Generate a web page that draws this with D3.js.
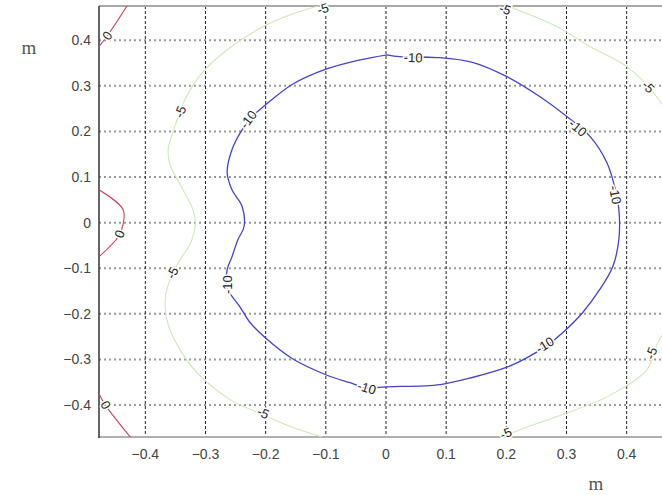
<!DOCTYPE html>
<html>
<head>
<meta charset="utf-8">
<script src="https://cdn.jsdelivr.net/npm/d3@7"></script>
<style>
  body { margin: 0; background: #fff; }
  svg { display: block; }
</style>
</head>
<body>
<div id="chart"></div>
<script>
// ticks
const xTicks = [-0.4, -0.3, -0.2, -0.1, 0, 0.1, 0.2, 0.3, 0.4];
const yTicks = [0.4, 0.3, 0.2, 0.1, 0, -0.1, -0.2, -0.3, -0.4];

// contour level -10 (closed)
const level10 = [
  [0.002, 0.368], [0.023, 0.364], [0.085, 0.362], [0.145, 0.351], [0.201, 0.320],
  [0.256, 0.276], [0.301, 0.232], [0.339, 0.189], [0.367, 0.132], [0.380, 0.079],
  [0.387, 0.029], [0.387, -0.037], [0.377, -0.096], [0.355, -0.147], [0.327, -0.197],
  [0.294, -0.241], [0.269, -0.268], [0.236, -0.295], [0.201, -0.317], [0.145, -0.339],
  [0.090, -0.355], [0.002, -0.360], [-0.032, -0.362], [-0.060, -0.351], [-0.101, -0.333],
  [-0.156, -0.298], [-0.201, -0.252], [-0.226, -0.219], [-0.243, -0.184], [-0.264, -0.143],
  [-0.264, -0.103], [-0.256, -0.075], [-0.246, -0.037], [-0.236, -0.009], [-0.239, 0.035],
  [-0.256, 0.072], [-0.264, 0.110], [-0.256, 0.160], [-0.239, 0.204], [-0.223, 0.232],
  [-0.204, 0.254], [-0.156, 0.303], [-0.101, 0.336], [-0.043, 0.357], [0.002, 0.368]
];
const labels10 = [[0.045, 0.362], [-0.229, 0.226], [0.319, 0.208], [0.381, 0.061],
                  [0.264, -0.268], [-0.032, -0.362], [-0.264, -0.136]];

// contour level -5 (two open pieces)
const level5Left = [
  [-0.110, 0.476], [-0.159, 0.456], [-0.204, 0.430], [-0.259, 0.384], [-0.304, 0.331],
  [-0.334, 0.270], [-0.350, 0.215], [-0.362, 0.160], [-0.359, 0.127], [-0.342, 0.083],
  [-0.321, 0.029], [-0.317, -0.004], [-0.326, -0.048], [-0.342, -0.081], [-0.359, -0.125],
  [-0.367, -0.169], [-0.362, -0.224], [-0.342, -0.279], [-0.314, -0.329], [-0.259, -0.388],
  [-0.204, -0.421], [-0.159, -0.447], [-0.106, -0.470]
];
const level5Right = [
  [0.198, 0.476], [0.218, 0.467], [0.284, 0.430], [0.339, 0.386], [0.400, 0.342],
  [0.447, 0.281], [0.488, 0.182], [0.500, 0.0], [0.488, -0.169], [0.450, -0.268],
  [0.434, -0.322], [0.367, -0.382], [0.284, -0.425], [0.223, -0.454], [0.194, -0.470]
];
const labels5 = [[-0.105, 0.469], [-0.342, 0.243], [-0.355, -0.110], [-0.204, -0.417],
                 [0.198, 0.468], [0.436, 0.298], [0.441, -0.286], [0.199, -0.462]];

// contour level 0 (three pieces at the left edge)
const level0Top = [[-0.477, 0.386], [-0.462, 0.412], [-0.430, 0.476]];
const level0Mid = [[-0.477, 0.072], [-0.437, 0.029], [-0.437, -0.004], [-0.445, -0.031], [-0.477, -0.075]];
const level0Bot = [[-0.477, -0.375], [-0.467, -0.399], [-0.425, -0.470]];
const labels0 = [[-0.463, 0.410], [-0.443, -0.025], [-0.466, -0.400]];

const W = 662, H = 495;
const m = {left: 99, top: 6, right: 673, bottom: 437};

const x = d3.scaleLinear().domain([-0.477, 0.477]).range([m.left, m.right]);
const y = d3.scaleLinear().domain([-0.47, 0.475]).range([m.bottom, m.top]);

const svg = d3.select("#chart").append("svg")
    .attr("width", W)
    .attr("height", H)
    .style("font-family", "Liberation Sans, Arial, sans-serif");

svg.append("defs").append("clipPath").attr("id", "plot")
  .append("rect")
    .attr("x", m.left).attr("y", m.top)
    .attr("width", m.right - m.left).attr("height", m.bottom - m.top);

// grid
svg.append("g")
  .selectAll("line")
  .data(yTicks)
  .enter().append("line")
    .attr("x1", m.left).attr("x2", m.right)
    .attr("y1", d => y(d)).attr("y2", d => y(d))
    .style("stroke", "#9a9a9a")
    .style("stroke-width", 2)
    .style("stroke-dasharray", "2,3");

svg.append("g")
  .selectAll("line")
  .data(xTicks)
  .enter().append("line")
    .attr("x1", d => x(d)).attr("x2", d => x(d))
    .attr("y1", m.top).attr("y2", m.bottom)
    .style("stroke", "#222")
    .style("stroke-width", 1)
    .style("stroke-dasharray", "3,2");

// borders
svg.append("line")
    .attr("x1", m.left).attr("x2", m.right).attr("y1", m.top).attr("y2", m.top)
    .style("stroke", "#a8a8a8").style("stroke-width", 2);
svg.append("line")
    .attr("x1", m.left).attr("x2", m.right).attr("y1", m.bottom).attr("y2", m.bottom)
    .style("stroke", "#b0b0b0").style("stroke-width", 2);
svg.append("line")
    .attr("x1", m.left).attr("x2", m.left).attr("y1", m.top).attr("y2", m.bottom + 1)
    .style("stroke", "#333").style("stroke-width", 1.5);

// contours
const line = d3.line().x(d => x(d[0])).y(d => y(d[1])).curve(d3.curveCatmullRom);
const contours = [
  {pts: level10, color: "#4444c4", w: 1.3},
  {pts: level5Left, color: "#cfe8b8", w: 1.1},
  {pts: level5Right, color: "#cfe8b8", w: 1.1},
  {pts: level0Top, color: "#c8465a", w: 1.1},
  {pts: level0Mid, color: "#c8465a", w: 1.1},
  {pts: level0Bot, color: "#c8465a", w: 1.1}
];
svg.append("g").attr("clip-path", "url(#plot)")
  .selectAll("path")
  .data(contours)
  .enter().append("path")
    .attr("d", d => line(d.pts))
    .style("fill", "none")
    .style("stroke", d => d.color)
    .style("stroke-width", d => d.w);

// label angle from nearest segment of its contour
function angleAt (p, sets) {
  let best = null, bd = Infinity;
  sets.forEach(pts => {
    for (let i = 0; i < pts.length - 1; i++) {
      const mx = (pts[i][0] + pts[i + 1][0]) / 2, my = (pts[i][1] + pts[i + 1][1]) / 2;
      const dd = (x(mx) - x(p[0])) ** 2 + (y(my) - y(p[1])) ** 2;
      if (dd < bd) { bd = dd; best = [pts[i], pts[i + 1]]; }
    }
  });
  let a = Math.atan2(y(best[1][1]) - y(best[0][1]), x(best[1][0]) - x(best[0][0])) * 180 / Math.PI;
  if (a > 90) a -= 180;
  if (a < -90) a += 180;
  return a;
}

const labelSets = [
  {pts: labels10, text: "-10", lines: [level10]},
  {pts: labels5, text: "-5", lines: [level5Left, level5Right]},
  {pts: labels0, text: "0", lines: [level0Top, level0Mid, level0Bot]}
];
labelSets.forEach(set => {
  svg.append("g")
    .selectAll("text")
    .data(set.pts)
    .enter().append("text")
      .attr("transform", d => `translate(${x(d[0])},${y(d[1])}) rotate(${angleAt(d, set.lines)})`)
      .attr("text-anchor", "middle")
      .attr("dy", "0.35em")
      .style("font-size", "13px")
      .style("fill", "#222")
      .style("stroke", "#fff")
      .style("stroke-width", 3)
      .style("paint-order", "stroke")
      .text(set.text);
});

// tick labels
svg.append("g")
  .selectAll("text")
  .data(yTicks)
  .enter().append("text")
    .attr("x", 91)
    .attr("y", d => y(d))
    .attr("dy", "0.35em")
    .attr("text-anchor", "end")
    .style("font-size", "14px")
    .style("fill", "#444")
    .text(d => d === 0 ? "0" : d3.format(".1f")(d));

svg.append("g")
  .selectAll("text")
  .data(xTicks)
  .enter().append("text")
    .attr("x", d => x(d))
    .attr("y", 459)
    .attr("text-anchor", "middle")
    .style("font-size", "14px")
    .style("fill", "#444")
    .text(d => d === 0 ? "0" : d3.format(".1f")(d));

// axis titles
svg.append("text")
    .attr("x", 29).attr("y", 54)
    .attr("text-anchor", "middle")
    .style("font-family", "Liberation Serif, Times New Roman, serif")
    .style("font-size", "19px")
    .style("fill", "#555")
    .text("m");
svg.append("text")
    .attr("x", 596).attr("y", 490)
    .attr("text-anchor", "middle")
    .style("font-family", "Liberation Serif, Times New Roman, serif")
    .style("font-size", "19px")
    .style("fill", "#555")
    .text("m");
</script>
</body>
</html>
